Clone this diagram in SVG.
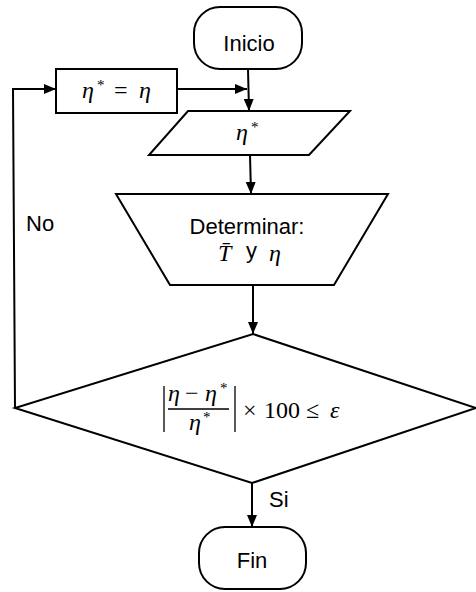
<svg xmlns="http://www.w3.org/2000/svg" width="476" height="592" viewBox="0 0 476 592">
<defs>
<marker id="arr" viewBox="0 0 12 10" refX="12" refY="5" markerWidth="12" markerHeight="10" markerUnits="userSpaceOnUse" orient="auto">
<path d="M0,0 L12,5 L0,10 Z" fill="#000"/>
</marker>
<style>
.shape{fill:#fff;stroke:#000;stroke-width:2}
.conn{fill:none;stroke:#000;stroke-width:2}
.lbl{font-family:"Liberation Sans",Arial,sans-serif;font-size:22px;fill:#000}
.math{font-family:"Liberation Serif","DejaVu Serif",serif;font-size:24px;fill:#000}
.mi{font-style:italic}
.sup{font-family:"Liberation Serif","DejaVu Serif",serif;font-size:15px;fill:#000}
.mline{stroke:#000;stroke-width:1.3}
</style>
</defs>
<rect width="476" height="592" fill="#fff"/>
<g id="connectors">
<path class="conn" d="M248,69 L249,111" marker-end="url(#arr)"/>
<path class="conn" d="M177,89 L247,89" marker-end="url(#arr)"/>
<path class="conn" d="M250,155 L251,194" marker-end="url(#arr)"/>
<path class="conn" d="M253,285 L253,334" marker-end="url(#arr)"/>
<path class="conn" d="M15,408 L13,89 L56,89" marker-end="url(#arr)"/>
<path class="conn" d="M252,483 L252,527" marker-end="url(#arr)"/>
<text class="lbl" x="26" y="231">No</text>
<text class="lbl" x="269" y="507">Si</text>
</g>
<g id="inicio">
<rect class="shape" x="194" y="7" width="108" height="62" rx="26" ry="26"/>
<text class="lbl" x="249" y="51" text-anchor="middle">Inicio</text>
</g>
<g id="asignar">
<rect class="shape" x="56" y="69" width="121" height="44"/>
<text class="math mi" x="82" y="98">η</text>
<text class="sup" x="97" y="90">*</text>
<text class="math" x="114" y="98">=</text>
<text class="math mi" x="139" y="98">η</text>
</g>
<g id="entrada">
<polygon class="shape" points="188,111 350,111 309,155 149,155"/>
<text class="math mi" x="236" y="140">η</text>
<text class="sup" x="251" y="132">*</text>
</g>
<g id="determinar">
<polygon class="shape" points="116,194 388,194 334,285 170,285"/>
<text class="lbl" x="247" y="234" text-anchor="middle">Determinar:</text>
<text class="math mi" x="218" y="261">T̄</text>
<text class="lbl" x="246" y="258">y</text>
<text class="math mi" x="269" y="261">η</text>
</g>
<g id="decision">
<polygon class="shape" points="253,334 476,408 252,483 15,408"/>
<line class="mline" x1="164" y1="386" x2="164" y2="432"/>
<line class="mline" x1="168" y1="409" x2="229" y2="409"/>
<line class="mline" x1="235" y1="386" x2="235" y2="432"/>
<text class="math mi" x="168" y="401">η</text>
<text class="math" x="185" y="401">−</text>
<text class="math mi" x="205" y="401">η</text>
<text class="sup" x="220" y="393">*</text>
<text class="math mi" x="189" y="430">η</text>
<text class="sup" x="203" y="422">*</text>
<text class="math" x="243" y="418">×</text>
<text class="math" x="264" y="418">100</text>
<text class="math" x="306" y="418">≤</text>
<text class="math mi" x="330" y="418">ε</text>
</g>
<g id="fin">
<rect class="shape" x="199" y="527" width="107" height="62" rx="26" ry="26"/>
<text class="lbl" x="252" y="568" text-anchor="middle">Fin</text>
</g>
</svg>
